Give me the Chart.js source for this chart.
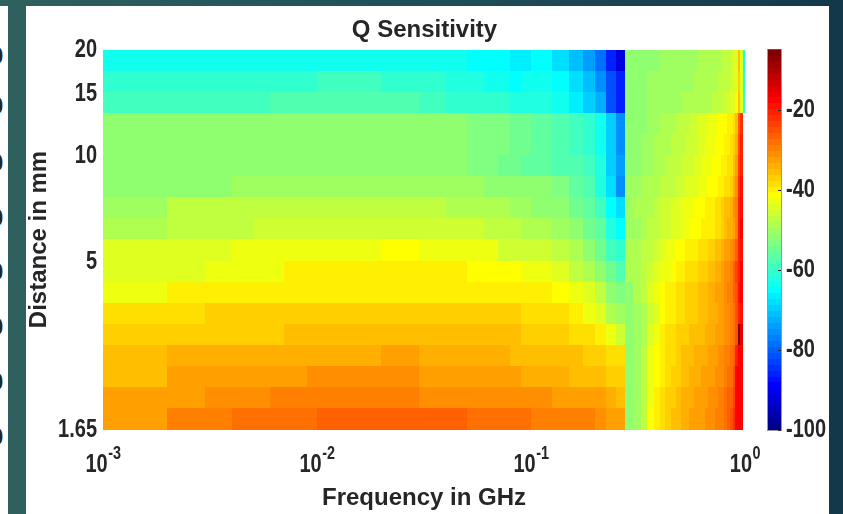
<!DOCTYPE html>
<html>
<head>
<meta charset="utf-8">
<script src="https://cdn.jsdelivr.net/npm/chart.js@4.4.0/dist/chart.umd.min.js"></script>
<style>
  html, body { margin: 0; padding: 0; }
  body {
    width: 843px; height: 514px; position: relative; overflow: hidden;
    background: linear-gradient(90deg, #2f615f 0%, #22505a 45%, #13384a 100%);
  }
  #edge { position: absolute; left: 0; top: 6px; width: 8px; height: 508px; background: #fff; overflow: hidden; }
  #edge span { position: absolute; left: -10px; font: bold 24px 'Liberation Sans', Arial, sans-serif; color: #262626; line-height: 24px; }
  #panel { position: absolute; left: 26px; top: 6px; width: 803px; height: 508px; background: #fff; }
  #chart { position: absolute; left: 0; top: 0; }
</style>
</head>
<body>
<div id="edge">
  <span style="top:38px">0</span><span style="top:88px">0</span><span style="top:145px">0</span>
  <span style="top:200px">0</span><span style="top:254px">0</span><span style="top:309px">0</span>
  <span style="top:364px">0</span><span style="top:419px">0</span>
</div>
<div id="panel"></div>
<canvas id="chart" width="843" height="514"></canvas>
<script>
// cell edges (pcolor grid)
const freqEdges = [0.001, 0.002, 0.003, 0.004, 0.005, 0.006, 0.007, 0.008, 0.009,
  0.01, 0.02, 0.03, 0.04, 0.05, 0.06, 0.07, 0.08, 0.09,
  0.1, 0.125, 0.15, 0.175, 0.2, 0.225, 0.25, 0.275, 0.3, 0.325, 0.35, 0.375, 0.4,
  0.425, 0.45, 0.475, 0.5, 0.525, 0.55, 0.575, 0.6, 0.625, 0.65, 0.675, 0.7,
  0.725, 0.75, 0.775, 0.8, 0.825, 0.85, 0.875, 0.9, 0.925, 0.95, 0.975, 1.0];
const distEdges = [1.65, 1.895, 2.177, 2.501, 2.873, 3.3, 3.79, 4.354, 5.001, 5.745,
  6.599, 7.58, 8.707, 10.0, 11.49, 13.2, 15.16, 17.41, 20];

// tick values / labels
const freqTicks = [0.001, 0.01, 0.1, 1];
const freqExp = ['-3', '-2', '-1', '0'];
const distTicks = [1.65, 5, 10, 15, 20];
const cbTicks = [-100, -80, -60, -40, -20];
const cbMin = -100, cbMax = -5;

// Q sensitivity (dB), one row per distance band, bottom (1.65 mm) to top (20 mm)
const d01 = [-31.8,-29.7,-29.7,-28.4,-28.4,-28.4,-28.4,-28.4,-28.4,
  -26.6,-26.6,-26.6,-26.6,-28,-28,-28,-28,-28.7,
  -29.3,-29.5,-29.9,-30.2,-31,-31.8,-31.8,
  -52.5,-50,-47,-42,-39.5,-38,-37,-36,-35,-34,-33.5,-33,-32.5,-32,-31.8,-31.3,-31,-30.5,-30,-29.5,-29,-28,-26.5,-25,-22,-17.5,-17,-17,null];
const d02 = [-33.2,-31.8,-30.5,-30.5,-30.5,-29.2,-29.2,-29.2,-29.2,
  -29.2,-29.2,-30.5,-30.5,-31.5,-31.5,-31.3,-31.3,-31.3,
  -31.1,-31.8,-32.5,-32.5,-33.2,-34,-34.7,
  -52.5,-50,-47.5,-42.5,-40,-38.5,-37.5,-36.5,-35.5,-34.5,-34,-33.5,-33,-32.5,-32.3,-32,-31.5,-31,-30.5,-30,-29.5,-28.5,-27,-26,-23,-18,-17,-17,null];
const d03 = [-34.7,-33.2,-33.2,-32,-32,-32,-32,-32,-30.8,
  -30.8,-30.8,-32.5,-32.5,-33.2,-33.2,-33.2,-33.2,-34,
  -33.5,-34,-34.7,-34.7,-35.4,-36.3,-37,
  -52.5,-50.5,-48,-43,-41,-40,-38.5,-37.5,-36.5,-35.5,-34.7,-34.3,-34,-33.5,-33.2,-33,-32.5,-32,-31.5,-31,-30.5,-29.5,-28.5,-27.5,-25,-18,-17,-17,null];
const d04 = [-35.8,-34.6,-34.6,-34.6,-33.8,-33.8,-33.8,-33.8,-33.8,
  -33.8,-32.8,-34.3,-34.3,-34.3,-34.3,-34.3,-35,-35,
  -35.5,-36,-35.8,-36.8,-37.5,-38.5,-39,
  -52.5,-51,-48,-43.5,-41.5,-40.6,-39,-38,-37,-36,-35.5,-35,-34.5,-34,-33.8,-33.5,-33,-32.5,-32,-31.5,-31,-30,-29,-28.5,-26,-20,-17.5,-17,null];
const d05 = [-37.5,-37.5,-36.3,-36.3,-36.3,-36.3,-35.4,-35.4,-35.4,
  -35.4,-35.4,-35.4,-35.4,-35.4,-35.4,-36,-36,-37,
  -37,-37.3,-38.5,-38.2,-40.6,-43.5,-45.5,
  -52.5,-51,-49.5,-45,-42.5,-40.6,-39,-38,-37.5,-36.5,-36.3,-36,-35.5,-35,-34.7,-34.5,-34,-33.5,-33,-32.5,-32,-31.5,-30.5,-29.5,-27.5,-25,-6,-14,null];
const d06 = [-38.8,-38.8,-37.3,-37.3,-37.3,-37.3,-37.3,-36.6,-36.6,
  -36.6,-36.6,-36.6,-36.6,-37.5,-37.5,-37.5,-37.5,-37.8,
  -38.5,-38,-40.6,-42.8,-45,-49.5,-50.2,
  -52.5,-51,-49.5,-46.5,-44.3,-42,-40.6,-40,-38.5,-38,-37.5,-37.1,-37,-36,-35.5,-35,-34.5,-34,-33.5,-33,-32.5,-31.5,-30.5,-30,-28,-25.5,-20,-18.5,null];
const d07 = [-42.9,-40.6,-40.6,-40.6,-39.4,-39.4,-39.4,-39.4,-39.4,
  -39.4,-39.4,-39.4,-39.4,-39.4,-40.6,-40.6,-40.6,-40.6,
  -40.6,-41.5,-42.8,-44.5,-47,-51.1,-53,
  -51.1,-48.5,-47.5,-44.5,-43.5,-41,-40.6,-39.5,-39,-38.5,-37.5,-37,-36.5,-36,-35,-34.7,-34.5,-34,-33,-32.5,-32,-31,-30.2,-29.5,-27,-25,-18.5,-18,null];
const d08 = [-44.3,-44.3,-42.8,-42.8,-42.8,-42.8,-40.6,-40.6,-40.6,
  -40.6,-40.6,-40.6,-40.6,-42,-42,-42,-42,-43.5,
  -43.5,-45,-46.6,-48.6,-51.1,-54,-57,
  -49.5,-48.5,-47,-46,-44.5,-43.5,-42.5,-41.5,-40.6,-40,-39,-38.5,-38,-37.5,-37,-36.5,-36,-35,-34,-33.5,-33,-31.5,-30.5,-30,-27,-24,-20,-18,null];
const d09 = [-44.6,-44.6,-44.6,-43.5,-43.5,-43.5,-43.5,-43.5,-43.5,
  -43.5,-42,-43.5,-43.5,-43.5,-43.5,-45.3,-45.3,-45.3,
  -45.3,-47.3,-49.5,-51.1,-54,-58.5,-61.4,
  -49.5,-49,-47.5,-46.6,-46,-44.5,-43.5,-43,-42,-41,-40.6,-40.3,-40,-39,-38.5,-38,-37.5,-36.5,-35.5,-35,-34.5,-33,-32,-31.5,-29,-26,-21,-19,null];
const d10 = [-49.2,-47.3,-47.3,-47.3,-46.2,-46.2,-46.2,-46.2,-46.2,
  -46.2,-46.2,-46.2,-46.2,-46.2,-47.3,-47.3,-47.3,-49.2,
  -49.5,-50.4,-52.5,-54,-55.5,-61.5,-64.4,
  -50.4,-50,-48.5,-48,-47.5,-46,-45.5,-45,-44,-43,-42.5,-42,-41.5,-41,-40.6,-40.3,-40,-39.5,-38.5,-38,-37.5,-35.5,-34.5,-34,-32,-30,-20,-18,null];
const d11 = [-49.9,-47.8,-47.8,-47.8,-47.8,-47.8,-47.8,-46.6,-46.6,
  -46.6,-46.6,-46.9,-49,-49,-49,-49,-50.4,-50.4,
  -51.3,-52.5,-54,-55.5,-58.5,-64.4,-68,
  -51,-49.5,-49,-48.5,-47.5,-46.5,-46,-45,-44.5,-43.5,-43,-42.5,-42,-41.5,-41,-40.6,-40.3,-40,-38.5,-38,-37.5,-35.5,-35,-34,-31,-29,-21,-19,null];
const d12 = [-51.8,-51.8,-51.8,-50.9,-50.9,-50.9,-50.9,-50.9,-50.9,
  -50.4,-50.4,-50.4,-50.4,-50.4,-52.3,-52.3,-52.3,-52.3,
  -52.5,-53,-55.5,-57,-61.5,-68.6,-74.8,
  -51,-50,-49.5,-49.5,-49,-48,-47.5,-47,-46.5,-46,-45,-44.5,-44,-43.5,-43,-42.5,-42,-41.5,-41,-40.6,-40,-39,-38,-37.5,-34,-31,-22,-19,null];
const d13 = [-52.5,-52.5,-52.5,-52.5,-52.5,-51.3,-51.3,-51.3,-51.3,
  -51.3,-51.3,-52.5,-52.5,-53.5,-53.5,-54,-55,-55.5,
  -55.5,-57,-58,-59.5,-62,-69,-74,
  -52.5,-52,-51,-50,-49.5,-48.5,-48,-47.5,-47,-46.5,-46,-45.5,-45,-44,-43.5,-43,-42.5,-42,-41.5,-41,-40.6,-40,-39,-38,-36,-32,-24,-20,null];
const d14 = [-52.5,-52.5,-52.5,-52.5,-52.5,-51.3,-51.3,-51.3,-51.3,
  -51.3,-51.3,-52.5,-52.5,-53.5,-53.5,-53.5,-55,-55,
  -55.5,-57,-58.5,-60,-64,-70.3,-74.8,
  -52.5,-52,-51,-50.5,-49.5,-49,-48.5,-48,-47.5,-47,-46.5,-46,-45.5,-44.5,-44,-43.5,-43,-42.5,-42,-41.5,-41,-40.6,-40,-39,-37.5,-34,-25,-21,null];
const d15 = [-52.5,-52.5,-52.5,-52.5,-52.5,-51.3,-51.3,-51.3,-51.3,
  -51.3,-51.3,-52.5,-52.5,-53.5,-53.5,-53.5,-55,-55,
  -55.5,-57,-58.5,-60,-63,-70.3,-74.8,
  -52.5,-52.5,-51.5,-50.5,-50,-49.5,-49,-48.5,-48,-47.5,-47,-46.5,-46,-45,-44.5,-44,-43.5,-43,-42.5,-42,-41.5,-41,-40.6,-40,-38.5,-36,-27,-22,null];
const d16 = [-58.5,-58.5,-58.5,-58.5,-58.5,-57.3,-57.3,-57.3,-57.3,
  -57.3,-57.3,-58.5,-60,-60,-60,-61.4,-61.8,-62,
  -62,-63,-66.5,-69.5,-73,-82,-86.6,
  -52.5,-52,-51.5,-51,-50.5,-50.5,-50.2,-50,-50,-49.5,-49.5,-49.3,-49,-49,-48.8,-48.5,-48.2,-48,-48,-47.5,-47,-46.5,-46,-45,-44,-42,-36,-44,-61];
const d17 = [-60.4,-60.4,-60.4,-60.4,-60.4,-60.4,-60.4,-60.4,-60.4,
  -58.7,-60.4,-60.4,-62,-62,-64,-64,-64.4,-63.5,
  -63.5,-65.8,-68,-71.5,-75.5,-82,-86.6,
  -52.5,-52.5,-51.5,-51,-51,-50.5,-50.5,-50.5,-50.2,-50.2,-50,-50,-49.5,-49.5,-49.3,-49,-49,-48.8,-48.5,-48,-48,-47.5,-47,-46,-45,-44,-37,-44,-62];
const d18 = [-63,-63,-63,-63,-63,-63,-63,-63,-63,
  -63,-63,-63,-63,-64.4,-64.4,-64.4,-66,-66.5,
  -65.8,-68,-71,-74.3,-79,-86.6,-92.5,
  -52.5,-52.5,-51.5,-51.1,-51.1,-51,-51,-51,-50.5,-50.5,-50.5,-50.2,-50,-49.5,-49.5,-49.5,-49.5,-49.5,-49,-48.5,-48,-48,-47.5,-46,-45,-44,-36,-44,-63];
const qRows = [d01, d02, d03, d04, d05, d06, d07, d08, d09, d10, d11, d12, d13, d14, d15, d16, d17, d18];

const fontFamily = "'Liberation Sans', Arial, Helvetica, sans-serif";
const textColor = '#262626';
const narrow = 0.8;   // tick labels in the original are a condensed face
Chart.defaults.font.family = fontFamily;
Chart.defaults.color = textColor;

// MATLAB jet(64)
function jetColor(v) {
  let k = Math.floor((v - cbMin) / (cbMax - cbMin) * 64);
  k = Math.max(0, Math.min(63, k)) + 1;
  const u = i => (i < 1 || i > 47) ? 0 : (i <= 16 ? i / 16 : (i <= 31 ? 1 : (48 - i) / 16));
  const r = u(k - 24), g = u(k - 8), b = u(k + 8);
  return 'rgb(' + Math.round(r * 255) + ',' + Math.round(g * 255) + ',' + Math.round(b * 255) + ')';
}

function narrowText(ctx, text, x, y, size, align, baseline) {
  ctx.save();
  ctx.translate(x, y);
  ctx.scale(narrow, 1);
  ctx.font = 'bold ' + size + 'px ' + fontFamily;
  ctx.textAlign = align;
  ctx.textBaseline = baseline;
  ctx.fillText(text, 0, 0);
  ctx.restore();
}

const heatmapPlugin = {
  id: 'heatmap',
  beforeDatasetsDraw(chart) {
    const {ctx, scales: {x, y}} = chart;
    ctx.save();
    qRows.forEach((row, i) => {
      const yTop = Math.round(y.getPixelForValue(distEdges[i + 1]));
      const yBot = Math.round(y.getPixelForValue(distEdges[i]));
      row.forEach((v, j) => {
        if (v === null) return;
        const x0 = Math.round(x.getPixelForValue(freqEdges[j]));
        const x1 = Math.round(x.getPixelForValue(freqEdges[j + 1]));
        ctx.fillStyle = jetColor(v);
        ctx.fillRect(x0, yTop, x1 - x0, yBot - yTop);
      });
    });
    ctx.restore();
  },
  afterDraw(chart) {
    const {ctx, chartArea, scales: {x, y, cb}} = chart;
    ctx.save();
    ctx.fillStyle = textColor;

    // y tick labels
    distTicks.forEach(v => {
      narrowText(ctx, String(v), chartArea.left - 6, y.getPixelForValue(v) + 1, 25, 'right', 'middle');
    });

    // x tick labels as 10^n
    freqTicks.forEach((v, i) => {
      const px = x.getPixelForValue(v);
      ctx.font = 'bold 25px ' + fontFamily;
      const wBase = ctx.measureText('10').width * narrow;
      ctx.font = 'bold 18px ' + fontFamily;
      const wExp = ctx.measureText(freqExp[i]).width * narrow;
      const left = px - (wBase + wExp) / 2;
      narrowText(ctx, '10', left, chartArea.bottom + 42, 25, 'left', 'alphabetic');
      narrowText(ctx, freqExp[i], left + wBase + 0.5, chartArea.bottom + 29.5, 18, 'left', 'alphabetic');
    });

    // colorbar
    const cbLeft = chartArea.right + 23, cbW = 13;
    const step = (cbMax - cbMin) / 64;
    for (let k = 0; k < 64; k++) {
      const lo = cbMin + k * step;
      const yLo = cb.getPixelForValue(lo), yHi = cb.getPixelForValue(lo + step);
      ctx.fillStyle = jetColor(lo + step / 2);
      ctx.fillRect(cbLeft, Math.floor(yHi), cbW, Math.ceil(yLo) - Math.floor(yHi));
    }
    ctx.strokeStyle = 'rgba(110,110,110,0.7)';
    ctx.lineWidth = 1;
    ctx.strokeRect(cbLeft - 0.5, Math.round(cb.top) - 0.5, cbW + 1, Math.round(cb.bottom - cb.top) + 1);
    ctx.strokeStyle = textColor;
    ctx.fillStyle = textColor;
    cbTicks.forEach(v => {
      const py = Math.round(cb.getPixelForValue(v)) + 0.5;
      ctx.beginPath();
      ctx.moveTo(cbLeft + cbW - 3, py);
      ctx.lineTo(cbLeft + cbW, py);
      ctx.stroke();
      narrowText(ctx, String(v), cbLeft + cbW + 5, cb.getPixelForValue(v) + 1, 25, 'left', 'middle');
    });
    ctx.restore();
  }
};

const labelFont = {family: fontFamily, size: 24, weight: 'bold'};

new Chart(document.getElementById('chart'), {
  type: 'scatter',
  data: {datasets: []},
  options: {
    responsive: false,
    animation: false,
    events: [],
    layout: {padding: {left: 6, right: 0, top: 0, bottom: 0}},
    plugins: {
      legend: {display: false},
      tooltip: {enabled: false},
      title: {
        display: true,
        text: 'Q Sensitivity',
        color: textColor,
        font: labelFont,
        padding: {top: 15.6, bottom: 5.1}
      }
    },
    scales: {
      x: {
        type: 'logarithmic',
        position: 'bottom',
        min: 0.001,
        max: 1,
        grid: {display: false, drawTicks: false},
        border: {display: false},
        ticks: {display: false},
        title: {display: true, text: 'Frequency in GHz', color: textColor, font: labelFont, padding: {top: 0, bottom: 1.4}},
        afterBuildTicks: s => { s.ticks = freqTicks.map(v => ({value: v})); },
        afterFit: s => { s.height = 84.5; }
      },
      y: {
        type: 'logarithmic',
        position: 'left',
        min: 1.65,
        max: 20,
        grid: {display: false, drawTicks: false},
        border: {display: false},
        ticks: {display: false},
        title: {display: true, text: 'Distance in mm', color: textColor, font: labelFont, padding: {top: 18.8, bottom: 0}},
        afterBuildTicks: s => { s.ticks = distTicks.map(v => ({value: v})); },
        afterFit: s => { s.width = 97; }
      },
      cb: {
        type: 'linear',
        position: 'right',
        min: cbMin,
        max: cbMax,
        grid: {display: false, drawTicks: false},
        border: {display: false},
        ticks: {display: false},
        afterBuildTicks: s => { s.ticks = cbTicks.map(v => ({value: v})); },
        afterFit: s => { s.width = 98; }
      }
    }
  },
  plugins: [heatmapPlugin]
});
</script>
</body>
</html>
